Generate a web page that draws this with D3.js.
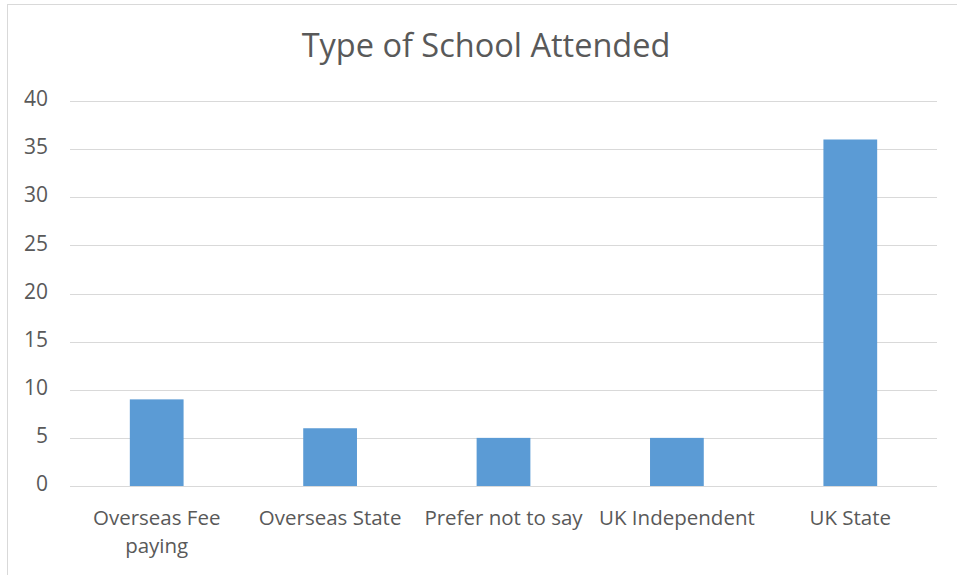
<!DOCTYPE html>
<html>
<head>
<meta charset="utf-8">
<script src="https://cdn.jsdelivr.net/npm/d3@7"></script>
<style>
  html, body { margin: 0; padding: 0; background: #fff; }
  svg { display: block; }
  text { font-family: "Open Sans", "Liberation Sans", sans-serif; fill: #595959; }
</style>
</head>
<body>
<svg id="chart" width="957" height="575"></svg>
<script>
const title = "Type of School Attended";
const categories = ["Overseas Fee paying", "Overseas State", "Prefer not to say", "UK Independent", "UK State"];
const values = [9, 6, 5, 5, 36];
const yTicks = [0, 5, 10, 15, 20, 25, 30, 35, 40];

const W = 957, H = 575;
const margin = { left: 70, right: 20, top: 101, bottom: 89 };
const svg = d3.select("#chart");

// chart border
svg.append("rect")
  .attr("x", 7.5).attr("y", 4.5)
  .attr("width", W + 10).attr("height", H + 10)
  .attr("fill", "none").attr("stroke", "#d9d9d9").attr("stroke-width", 1);

const x = d3.scaleBand()
  .domain(categories)
  .range([margin.left, W - margin.right])
  .paddingInner(0.69).paddingOuter(0.345);

const y = d3.scaleLinear()
  .domain([0, 40])
  .range([H - margin.bottom, margin.top]);

// gridlines
svg.append("g")
  .selectAll("line")
  .data(yTicks)
  .join("line")
  .attr("x1", margin.left).attr("x2", W - margin.right)
  .attr("y1", d => Math.round(y(d)) + 0.5).attr("y2", d => Math.round(y(d)) + 0.5)
  .attr("stroke", "#d9d9d9").attr("stroke-width", 1);

// y axis labels
const yAxis = d3.axisLeft(y).tickValues(yTicks).tickSize(0).tickPadding(0);
const gy = svg.append("g").attr("transform", `translate(48,-2)`).call(yAxis);
gy.select(".domain").remove();
gy.selectAll("text")
  .attr("font-size", 21)
  .attr("font-family", "'Open Sans', sans-serif")
  .attr("fill", "#595959");

// bars
svg.append("g")
  .selectAll("rect")
  .data(categories.map((c, i) => ({ c, v: values[i] })))
  .join("rect")
  .attr("x", d => x(d.c))
  .attr("width", x.bandwidth())
  .attr("y", d => y(d.v))
  .attr("height", d => y(0) - y(d.v))
  .attr("fill", "#5b9bd5");

// x axis labels (wrapped within band step)
const xAxis = d3.axisBottom(x).tickSize(0).tickPadding(0);
const gx = svg.append("g").attr("transform", `translate(0,525)`).call(xAxis);
gx.select(".domain").remove();
gx.selectAll("text")
  .attr("font-size", 20.5)
  .attr("font-family", "'Open Sans', sans-serif")
  .attr("fill", "#595959")
  .attr("y", 0)
  .call(wrap, x.step() - 2);

function wrap(sel, width) {
  sel.each(function() {
    const t = d3.select(this);
    const words = t.text().split(/\s+/);
    t.text(null);
    let line = [];
    let tspan = t.append("tspan").attr("x", 0).attr("dy", 0);
    for (const w of words) {
      line.push(w);
      tspan.text(line.join(" "));
      if (tspan.node().getComputedTextLength() > width && line.length > 1) {
        line.pop();
        tspan.text(line.join(" "));
        line = [w];
        tspan = t.append("tspan").attr("x", 0).attr("dy", 28).text(w);
      }
    }
  });
}

// title
svg.append("text")
  .attr("x", 486).attr("y", 57)
  .attr("text-anchor", "middle")
  .attr("font-size", 32.5)
  .attr("fill", "#595959")
  .text(title);
</script>
</body>
</html>
